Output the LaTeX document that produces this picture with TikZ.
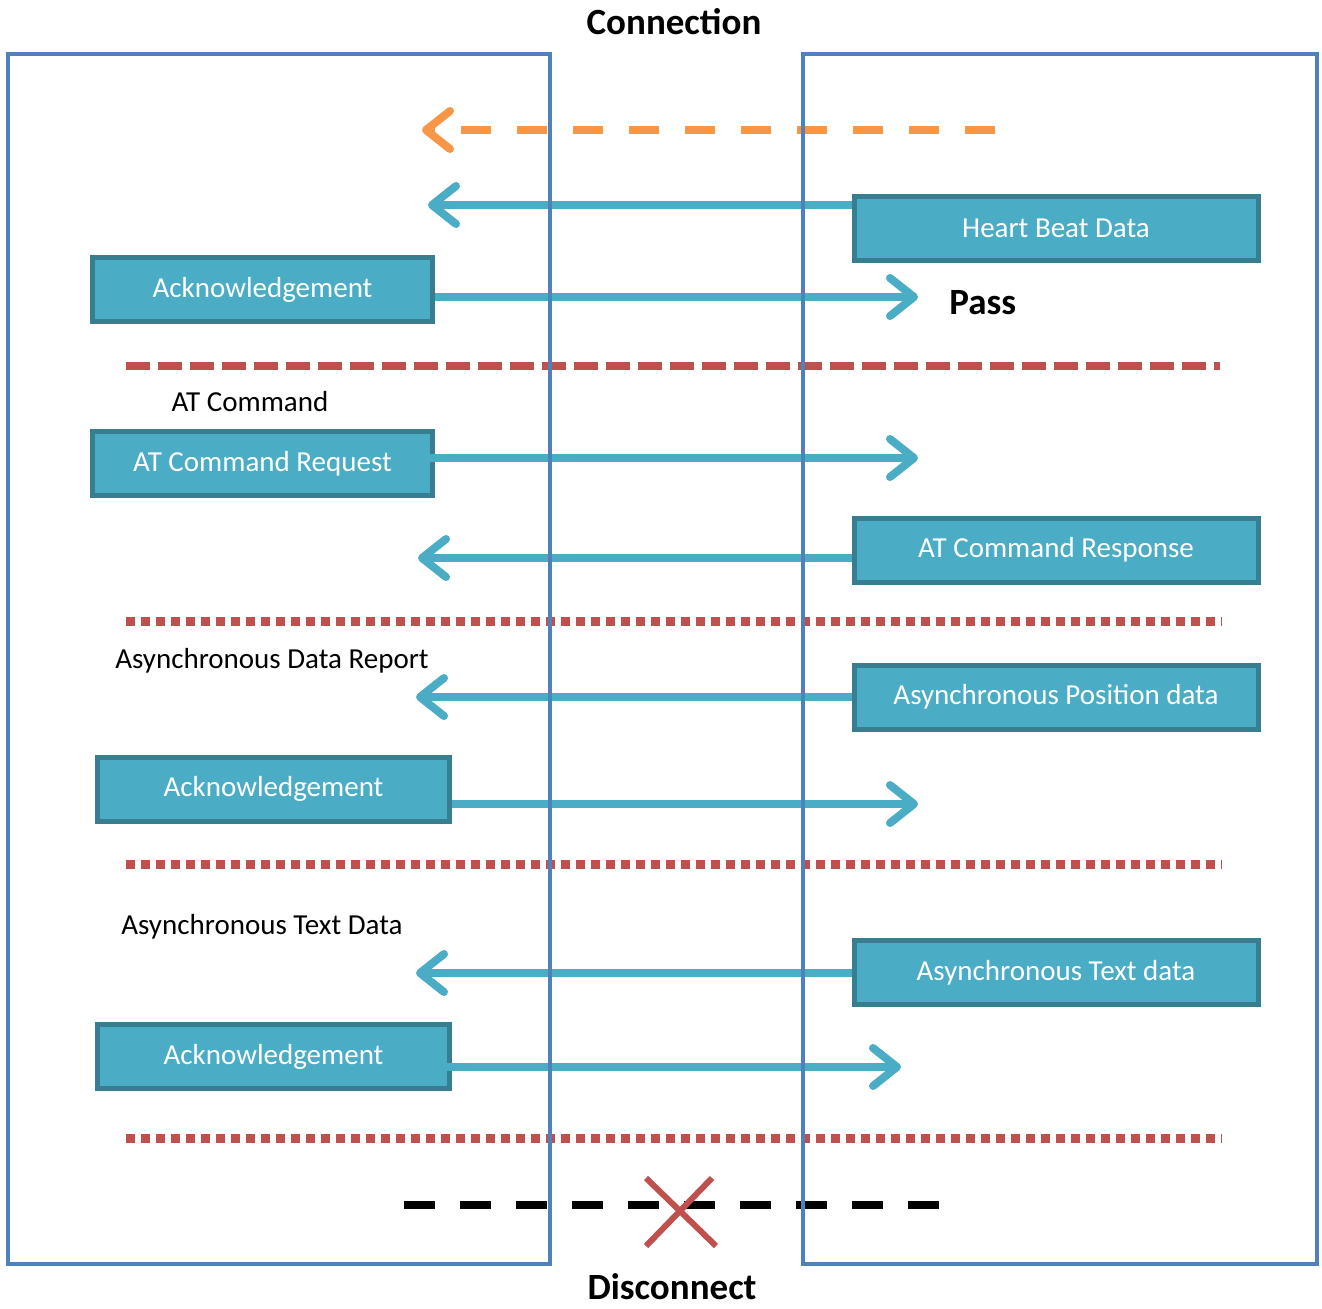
\documentclass[tikz,border=0pt]{standalone}
\usepackage{fontspec}
\setmainfont{Carlito}
\usetikzlibrary{arrows.meta}
\definecolor{frameblue}{HTML}{4F81BD}
\definecolor{msgteal}{HTML}{4BACC6}
\definecolor{boxedge}{HTML}{367E90}
\definecolor{linkorange}{HTML}{F79646}
\definecolor{sepred}{HTML}{C0504D}
\tikzset{
  msgbox/.style={draw=boxedge,line width=2.5pt,fill=msgteal,text=white,
    font=\fontsize{14.5}{17}\selectfont,inner sep=0pt,minimum height=32pt},
  leftbox/.style={msgbox,minimum width=170pt},
  rightbox/.style={msgbox,minimum width=202pt},
  barb/.style={-{Straight Barb[length=12pt,width=19pt,round]}},
  msg/.style={draw=msgteal,line width=4pt,barb},
  sectlabel/.style={font=\fontsize{14.5}{17}\selectfont},
  titlelabel/.style={font=\fontsize{18.5}{22}\selectfont\bfseries,inner sep=0pt},
  dotsep/.style={draw=sepred,line width=4.5pt,dash pattern=on 4.5pt off 3pt},
}
\begin{document}
\begin{tikzpicture}[x=0.5pt,y=-0.5pt]
\useasboundingbox (0,0) rectangle (1322,1308);
% titles
\node[titlelabel] (conn) at (674,22) {Connection};
\node[titlelabel] (disc) at (672,1287) {Disconnect};
% connect request (dashed)
\coordinate (linkStart) at (995,130);
\coordinate (linkEnd) at (422,130);
\draw[draw=linkorange,line width=4pt,dash pattern=on 15pt off 13pt,barb] (linkStart) -- (linkEnd);
% heart beat
\node[rightbox] (hb) at (1056,228) {Heart Beat Data};
\coordinate (hbEnd) at (428,205);
\draw[msg] (hb.west |- hbEnd) -- (hbEnd);
\node[leftbox] (ack1) at (262.5,289.5) {Acknowledgement};
\coordinate (ack1End) at (918,297);
\draw[msg] (ack1.east |- ack1End) -- (ack1End);
\node[titlelabel,anchor=west] (pass) at (949,303) {Pass};
\draw[draw=sepred,line width=4pt,dash pattern=on 12pt off 4pt] (126,366) -- (1220,366);
% AT command
\node[sectlabel] (atlab) at (250,402) {AT Command};
\node[leftbox] (atreq) at (262.5,463.5) {AT Command Request};
\coordinate (atreqEnd) at (918,458);
\draw[msg] ([xshift=-7pt]atreq.east |- atreqEnd) -- (atreqEnd);
\node[rightbox] (atresp) at (1056,550) {AT Command Response};
\coordinate (atrespEnd) at (418,558);
\draw[msg] (atresp.west |- atrespEnd) -- (atrespEnd);
% asynchronous data report
\node[sectlabel] (adlab) at (272,661) {Asynchronous Data Report};
\node[rightbox] (apos) at (1056,697) {Asynchronous Position data};
\coordinate (aposEnd) at (416,697);
\draw[msg] (apos.west |- aposEnd) -- (aposEnd);
\node[leftbox,minimum width=176pt] (ack2) at (273.5,789) {Acknowledgement};
\coordinate (ack2End) at (918,804);
\draw[msg] (ack2.east |- ack2End) -- (ack2End);
% asynchronous text data
\node[sectlabel] (atxlab) at (262,927) {Asynchronous Text Data};
\node[rightbox] (atxt) at (1056,972.5) {Asynchronous Text data};
\coordinate (atxtEnd) at (416,973);
\draw[msg] (atxt.west |- atxtEnd) -- (atxtEnd);
\node[leftbox,minimum width=176pt] (ack3) at (273.5,1056.5) {Acknowledgement};
\coordinate (ack3End) at (901,1067);
\draw[msg] ([xshift=-9.5pt]ack3.east |- ack3End) -- (ack3End);
% section separators
\foreach \y in {621,864,1138}
  \draw[dotsep] (126,\y) -- (1222,\y);
% disconnect
\draw[line width=4pt,dash pattern=on 15.5pt off 12.5pt] (404,1205) -- (940,1205);
\draw[sepred,line width=3pt] (646,1178) -- (716,1246) (712,1178) -- (646,1246);
% the two parties
\draw[frameblue,line width=2pt] (8,54) rectangle (550,1264);
\draw[frameblue,line width=2pt] (803,54) rectangle (1317,1264);
\end{tikzpicture}
\end{document}
